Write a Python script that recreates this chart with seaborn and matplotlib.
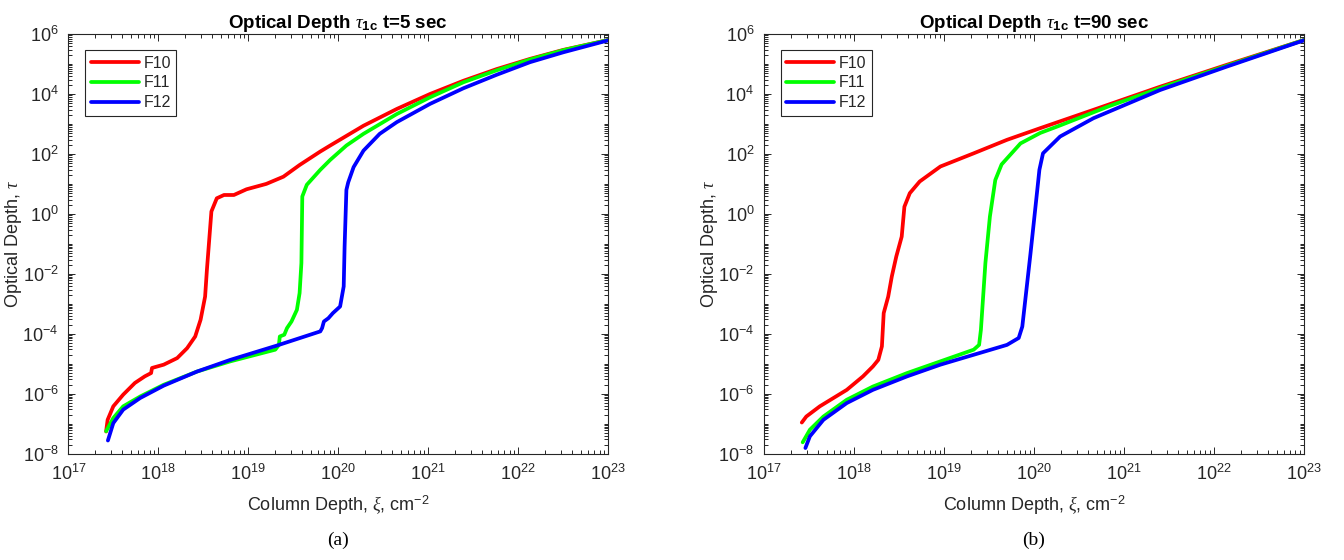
import matplotlib
matplotlib.use("Agg")
import matplotlib.pyplot as plt
import matplotlib.ticker as mticker
import numpy as np
import pandas as pd
import seaborn as sns

# values are log10 exponents
series_names = ["F10", "F11", "F12"]
line_colors = {"F10": "#ff0000", "F11": "#00ff00", "F12": "#0000ff"}

# panel (a), t=5 sec
a_f10_logx = [17.42, 17.437, 17.50, 17.61, 17.74, 17.85, 17.92, 17.93, 18.06, 18.21, 18.32, 18.41,
              18.47, 18.52, 18.54, 18.56, 18.59, 18.65, 18.73, 18.84, 18.98, 19.20, 19.39, 19.57,
              19.80, 19.91, 20.28, 20.65, 21.02, 21.39, 21.76, 22.13, 22.50, 23.00]
a_f10_logy = [-7.26, -6.87, -6.42, -6.03, -5.64, -5.42, -5.31, -5.14, -5.03, -4.81, -4.48, -4.09,
              -3.53, -2.76, -1.87, -1.09, 0.08, 0.52, 0.63, 0.63, 0.82, 1.00, 1.24, 1.63,
              2.08, 2.28, 2.94, 3.50, 4.00, 4.44, 4.83, 5.17, 5.47, 5.80]
a_f11_logx = [17.42, 17.50, 17.61, 17.80, 18.06, 18.43, 18.80, 19.30, 19.34, 19.35, 19.40, 19.43,
              19.48, 19.54, 19.57, 19.59, 19.60, 19.65, 19.80, 19.91, 20.09, 20.28, 20.65, 21.02,
              21.39, 21.76, 22.13, 22.50, 23.00]
a_f11_logy = [-7.25, -6.81, -6.42, -6.09, -5.70, -5.26, -4.92, -4.53, -4.37, -4.09, -4.03, -3.81,
              -3.59, -3.20, -2.64, -1.64, 0.58, 0.97, 1.47, 1.80, 2.28, 2.67, 3.33, 3.89,
              4.39, 4.79, 5.15, 5.46, 5.80]
a_f12_logx = [17.44, 17.50, 17.61, 17.80, 18.06, 18.43, 18.80, 19.31, 19.80, 19.82, 19.84, 19.89,
              19.94, 20.02, 20.06, 20.07, 20.09, 20.11, 20.17, 20.28, 20.46, 20.65, 21.02, 21.39,
              21.76, 22.13, 22.50, 23.00]
a_f12_logy = [-7.56, -6.98, -6.53, -6.14, -5.73, -5.26, -4.87, -4.40, -3.92, -3.81, -3.59, -3.48,
              -3.31, -3.09, -2.42, -1.09, 0.80, 1.05, 1.56, 2.11, 2.67, 3.06, 3.67, 4.19,
              4.64, 5.06, 5.39, 5.79]

# panel (b), t=90 sec
b_f10_logx = [17.42, 17.47, 17.62, 17.92, 18.10, 18.21, 18.27, 18.31, 18.33, 18.38, 18.42, 18.47,
              18.53, 18.56, 18.62, 18.73, 18.96, 19.33, 19.70, 20.07, 20.66, 21.40, 22.14, 23.00]
b_f10_logy = [-6.96, -6.76, -6.42, -5.87, -5.42, -5.09, -4.87, -4.42, -3.31, -2.76, -2.09, -1.42,
              -0.76, 0.24, 0.69, 1.08, 1.58, 2.02, 2.47, 2.86, 3.47, 4.24, 4.97, 5.80]
b_f11_logx = [17.43, 17.51, 17.66, 17.92, 18.21, 18.59, 18.96, 19.33, 19.39, 19.41, 19.46, 19.51,
              19.57, 19.64, 19.85, 20.07, 20.29, 20.84, 21.50, 22.20, 23.00]
b_f11_logy = [-7.62, -7.20, -6.76, -6.20, -5.76, -5.31, -4.92, -4.53, -4.37, -3.87, -1.64, -0.09,
              1.13, 1.65, 2.35, 2.70, 2.95, 3.60, 4.30, 5.00, 5.80]
b_f12_logx = [17.46, 17.51, 17.66, 17.92, 18.21, 18.59, 18.96, 19.33, 19.70, 19.83, 19.87, 19.96,
              20.04, 20.06, 20.10, 20.29, 20.66, 21.40, 22.14, 23.00]
b_f12_logy = [-7.81, -7.42, -6.87, -6.31, -5.87, -5.42, -5.03, -4.70, -4.37, -4.14, -3.76, -1.35,
              0.90, 1.47, 2.02, 2.58, 3.19, 4.13, 4.91, 5.79]

panel_titles = [r"Optical Depth $\tau_{\mathbf{1c}}$ t=5 sec",
                r"Optical Depth $\tau_{\mathbf{1c}}$ t=90 sec"]
panel_captions = ["(a)", "(b)"]


def make_frame(curves):
    rows = []
    for name, (lx, ly) in zip(series_names, curves):
        for x, y in zip(lx, ly):
            rows.append({"xi": 10.0 ** x, "tau": 10.0 ** y, "series": name})
    return pd.DataFrame(rows)


df_a = make_frame([(a_f10_logx, a_f10_logy), (a_f11_logx, a_f11_logy), (a_f12_logx, a_f12_logy)])
df_b = make_frame([(b_f10_logx, b_f10_logy), (b_f11_logx, b_f11_logy), (b_f12_logx, b_f12_logy)])

sns.set_theme(style="ticks")
plt.rcParams["font.family"] = ["Liberation Sans", "DejaVu Sans"]
plt.rcParams["mathtext.fontset"] = "custom"
plt.rcParams["mathtext.rm"] = "Liberation Sans"
plt.rcParams["mathtext.it"] = "Liberation Serif:italic"
plt.rcParams["mathtext.bf"] = "Liberation Sans:bold"
plt.rcParams["axes.unicode_minus"] = False
dark = "#262626"

fig = plt.figure(figsize=(13.44, 5.6), dpi=100)
ax_w, ax_h = 540 / 1344, 419.7 / 560
ax_bottom = 1 - 453.7 / 560
axes = [fig.add_axes([68.3 / 1344, ax_bottom, ax_w, ax_h]),
        fig.add_axes([764 / 1344, ax_bottom, ax_w, ax_h])]

for ax, df, title, cap in zip(axes, [df_a, df_b], panel_titles, panel_captions):
    sns.lineplot(data=df, x="xi", y="tau", hue="series", palette=line_colors,
                 estimator=None, sort=False, units="series", lw=2.7, ax=ax)
    ax.set_xscale("log")
    ax.set_yscale("log")
    ax.set_xlim(1e17, 1e23)
    ax.set_ylim(1e-8, 1e6)
    ax.xaxis.set_major_locator(mticker.FixedLocator([10.0 ** k for k in range(17, 24)]))
    ax.yaxis.set_major_locator(mticker.FixedLocator([10.0 ** k for k in range(-8, 7, 2)]))
    ax.xaxis.set_minor_locator(mticker.LogLocator(base=10, subs=np.arange(1, 10), numticks=100))
    ax.yaxis.set_minor_locator(mticker.LogLocator(base=10, subs=np.arange(1, 10), numticks=100))
    ax.xaxis.set_minor_formatter(mticker.NullFormatter())
    ax.yaxis.set_minor_formatter(mticker.NullFormatter())
    ax.tick_params(which="both", direction="in", top=True, right=True, colors=dark,
                   labelcolor=dark, labelsize=13, width=0.7)
    ax.tick_params(which="major", length=5, pad=7)
    ax.tick_params(which="minor", length=2.8)
    for sp in ax.spines.values():
        sp.set_color(dark)
        sp.set_linewidth(0.8)
    ax.set_xlabel(r"Column Depth, $\xi$, cm$^{-2}$", fontsize=13, color=dark, labelpad=7)
    ax.set_ylabel(r"Optical Depth, $\tau$", fontsize=13, color=dark)
    ax.yaxis.set_label_coords(-0.082, 0.5)
    ax.set_title(title, fontsize=13.5, fontweight="bold", color="black", pad=3)
    leg = ax.legend(loc="upper left", bbox_to_anchor=(0.031, 0.962), borderaxespad=0,
                    fontsize=11.5, handlelength=3.0, handletextpad=0.3, labelspacing=0.3,
                    borderpad=0.35, fancybox=False, framealpha=1, title=None)
    leg.get_frame().set_edgecolor(dark)
    leg.get_frame().set_linewidth(0.8)
    for line in leg.get_lines():
        line.set_linewidth(2.7)
    pos = ax.get_position()
    fig.text(pos.x0 + pos.width / 2, 1 - 540 / 560, cap, ha="center", va="center",
             fontsize=14, family="Liberation Serif", color="black")

fig.savefig("out.png", dpi=100)
